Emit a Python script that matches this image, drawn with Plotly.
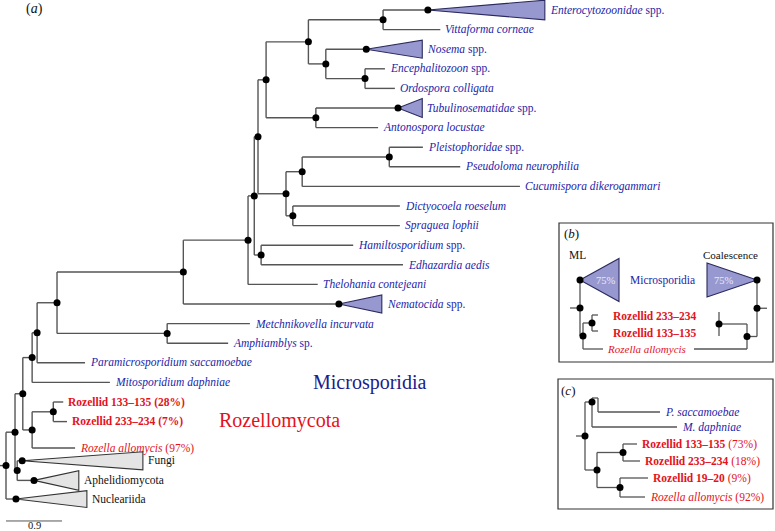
import plotly.graph_objects as go

W, H = 775, 531
PX_PER_UNIT = 56 / 0.9   # scale bar: 0.9 subst./site spans 56 px
ROW_PX = 19.6            # vertical spacing of leaves in (a)

BLUE = "#2424a8"
NAVY = "#1c1c8c"
RED = "#e3121c"
BLACK = "#111111"
LINE = "#555555"
LAV = "#9898d0"
LAV_EDGE = "#2a2a5e"
GREY = "#e4e4e4"
GREY_EDGE = "#333333"
FONT = "Liberation Serif"
LABEL_SIZE = 11.5

# ---------------- (a) ML tree ----------------
# internal nodes, depth from root in substitutions/site
node_names = ["root", "A", "C", "D", "N1", "N2", "N3", "R", "R2", "N4", "N5", "N6",
              "N7", "N8", "N9", "N10", "N11", "N12", "N13", "N14", "N15", "N16",
              "N17", "N18", "N19"]
node_parents = [None, "root", "A", "A", "C", "N1", "N2", "C", "R", "N3", "N3", "N4",
                "N6", "N7", "N8", "N9", "N10", "N10", "N12", "N9", "N8", "N15",
                "N16", "N15", "N7"]
node_depths = [0.0, 0.145, 0.27, 0.18, 0.42, 0.50, 0.82, 0.42, 0.76, 2.85, 2.59, 3.89,
               3.99, 4.05, 4.18, 4.86, 6.06, 5.14, 5.77, 4.98, 4.50, 4.76,
               6.16, 4.61, 4.10]

# single taxa
leaf_labels = [
    "<i>Vittaforma corneae</i>",
    "<i>Encephalitozoon</i> spp.",
    "<i>Ordospora colligata</i>",
    "<i>Antonospora locustae</i>",
    "<i>Pleistophoridae</i> spp.",
    "<i>Pseudoloma neurophilia</i>",
    "<i>Cucumispora dikerogammari</i>",
    "<i>Dictyocoela roeselum</i>",
    "<i>Spraguea lophii</i>",
    "<i>Hamiltosporidium</i> spp.",
    "<i>Edhazardia aedis</i>",
    "<i>Thelohania contejeani</i>",
    "<i>Metchnikovella incurvata</i>",
    "<i>Amphiamblys</i> sp.",
    "<i>Paramicrosporidium saccamoebae</i>",
    "<i>Mitosporidium daphniae</i>",
    "<b>Rozellid 133–135 (28%)</b>",
    "<b>Rozellid 233–234 (7%)</b>",
    "<i>Rozella allomycis</i> (97%)",
]
leaf_parents = ["N11", "N13", "N13", "N14", "N17", "N17", "N16", "N18", "N18", "N19",
                "N19", "N6", "N5", "N5", "N2", "N1", "R2", "R2", "R"]
leaf_depths = [6.98, 6.09, 6.25, 5.98, 6.70, 7.30, 8.26, 6.33, 6.33, 5.58,
               6.38, 5.01, 3.92, 3.57, 1.27, 1.67, 0.92, 0.98, 1.11]
leaf_rows = [1, 3, 4, 6, 7, 8, 9, 10, 11, 12, 13, 14, 16, 17, 18, 19, 20, 21, 22.35]
leaf_groups = ["micro"] * 16 + ["rozellid", "rozellid", "rozella"]

# collapsed clades (triangles)
clade_labels = ["<i>Enterocytozoonidae</i> spp.", "<i>Nosema</i> spp.",
                "<i>Tubulinosematidae</i> spp.", "<i>Nematocida</i> spp.",
                "Fungi", "Aphelidiomycota", "Nucleariida"]
clade_parents = ["N11", "N12", "N14", "N4", "D", "D", "root"]
clade_apex = [6.78, 5.79, 6.30, 5.35, 0.26, 0.45, 0.16]
clade_tip = [8.66, 6.69, 6.69, 6.04, 2.20, 1.17, 1.30]
clade_rows = [0, 2, 5, 15, 23, 24, 24.95]
clade_half = [0.5, 0.46, 0.48, 0.46, 0.46, 0.5, 0.43]
clade_groups = ["micro", "micro", "micro", "micro", "out", "out", "out"]

GROUP_STYLE = {"micro": BLUE, "rozellid": RED, "rozella": RED, "out": BLACK}

# ---------------- (b) ML vs coalescence (box-local px) ----------------
b_nodes = [("ml_root", None, 21), ("ml_roz", "ml_root", 24), ("ml_r", "ml_roz", 33),
           ("co_root", None, 198), ("co_roz", "co_root", 188), ("co_r", "co_roz", 160)]
b_leaves = [("ml_233", "ml_r", 39, 92), ("ml_133", "ml_r", 39, 108),
            ("ml_rozella", "ml_roz", 44, 126),
            ("co_233", "co_r", 160, 89), ("co_133", "co_r", 160, 113),
            ("co_rozella", "co_roz", 135, 126)]
b_clades = [("ml_micro", "ml_root", 21, 60, 57, 21.5, "micro"),
            ("co_micro", "co_root", 198, 148, 57, 17, "micro")]
b_support = ["75%", "75%"]

# ---------------- (c) alternative topology (box-local px) ----------------
c_nodes = [("c_root", None, 27), ("c_pm", "c_root", 34), ("c_ps", "c_pm", 40),
           ("c_roz", "c_root", 39), ("c_r1", "c_roz", 65), ("c_r2", "c_roz", 62)]
c_fixed_y = {"c_pm": 23, "c_ps": 19}
c_leaf_labels = ["<i>P. saccamoebae</i>", "<i>M. daphniae</i>",
                 "<b>Rozellid 133–135</b> (73%)", "<b>Rozellid 233–234</b> (18%)",
                 "<b>Rozellid 19–20</b> (9%)", "<i>Rozella allomycis</i> (92%)"]
c_leaf_parents = ["c_ps", "c_pm", "c_r1", "c_r1", "c_r2", "c_r2"]
c_leaf_x = [102, 119, 79, 82, 90, 87]
c_leaf_y = [33, 48, 65, 82, 99, 118]
c_leaf_groups = ["micro", "micro", "rozellid", "rozellid", "rozellid", "rozella"]


def tree_geometry(nodes, leaves, clades, fixed_y=None):
    px, py, parent, kids = {}, {}, {}, {}
    for name, par, x in nodes:
        px[name], parent[name] = x, par
        kids.setdefault(par, []).append(name)
    for name, par, x, y in leaves:
        px[name], py[name], parent[name] = x, y, par
        kids.setdefault(par, []).append(name)
    for name, par, ax, tx, y, half, grp in clades:
        px[name], py[name], parent[name] = ax, y, par
        kids.setdefault(par, []).append(name)
    fixed_y = fixed_y or {}

    def get_y(n):
        if n not in py:
            if n in fixed_y:
                py[n] = fixed_y[n]
            else:
                ys = [get_y(c) for c in kids[n]]
                py[n] = (min(ys) + max(ys)) / 2
        return py[n]

    for n in list(px):
        get_y(n)
    for n in list(px):
        for c in kids.get(n, []):
            get_y(c)

    lx, ly = [], []
    for n, par in parent.items():
        if par is None:
            continue
        lx += [px[par], px[n], None]
        ly += [py[n], py[n], None]
    for name, par, x in nodes:
        ys = [py[c] for c in kids[name]] + [py[name]]
        lx += [x, x, None]
        ly += [min(ys), max(ys), None]
    return px, py, lx, ly


def draw_tree(fig, nodes, leaves, clades, xa, ya, stubs, fixed_y=None, no_dot=(),
              lw=1.4):
    px, py, lx, ly = tree_geometry(nodes, leaves, clades, fixed_y)
    for root, sx in stubs:
        lx += [sx, px[root], None]
        ly += [py[root], py[root], None]
    fig.add_trace(go.Scatter(x=lx, y=ly, mode="lines", xaxis=xa, yaxis=ya,
                             line=dict(color=LINE, width=lw), hoverinfo="skip"))
    for name, par, ax, tx, y, half, grp in clades:
        fill, edge = (LAV, LAV_EDGE) if grp == "micro" else (GREY, GREY_EDGE)
        fig.add_trace(go.Scatter(x=[ax, tx, tx, ax], y=[y, y - half, y + half, y],
                                 mode="lines", fill="toself", fillcolor=fill,
                                 line=dict(color=edge, width=1.1), xaxis=xa, yaxis=ya,
                                 hoverinfo="skip"))
    dots = [n for n, _, _ in nodes if n not in no_dot] + [c[0] for c in clades]
    fig.add_trace(go.Scatter(x=[px[n] for n in dots], y=[py[n] for n in dots],
                             mode="markers", marker=dict(color="black", size=7),
                             xaxis=xa, yaxis=ya, hoverinfo="skip", cliponaxis=False))
    return px, py


fig = go.Figure()

# (a)
a_nodes = list(zip(node_names, node_parents, node_depths))
a_leaves = [(lab, par, d, r) for lab, par, d, r in
            zip(leaf_labels, leaf_parents, leaf_depths, leaf_rows)]
a_clades = list(zip(clade_labels, clade_parents, clade_apex, clade_tip, clade_rows,
                    clade_half, clade_groups))
draw_tree(fig, a_nodes, a_leaves, a_clades, "x", "y", [("root", -0.1)])

for lab, d, r, g in zip(leaf_labels, leaf_depths, leaf_rows, leaf_groups):
    fig.add_annotation(x=d, y=r, text=lab, xref="x", yref="y", showarrow=False,
                       xanchor="left", yanchor="middle", xshift=3,
                       font=dict(size=LABEL_SIZE, color=GROUP_STYLE[g]))
for lab, t, r, g in zip(clade_labels, clade_tip, clade_rows, clade_groups):
    fig.add_annotation(x=t, y=r, text=lab, xref="x", yref="y", showarrow=False,
                       xanchor="left", yanchor="middle", xshift=3,
                       font=dict(size=LABEL_SIZE, color=GROUP_STYLE[g]))

# scale bar
fig.add_trace(go.Scatter(x=[0, 0.9], y=[26.07, 26.07], mode="lines",
                         line=dict(color=LINE, width=1), hoverinfo="skip"))
fig.add_annotation(x=0.45, y=26.3, text="0.9", showarrow=False,
                   font=dict(size=10.5, color=BLACK))

fig.add_annotation(x=5.84, y=18.98, text="Microsporidia", showarrow=False,
                   font=dict(size=20, color=NAVY))
fig.add_annotation(x=4.40, y=20.92, text="Rozellomycota", showarrow=False,
                   font=dict(size=20, color=RED))
fig.add_annotation(x=0.45, y=-0.05, xref="x", yref="y", text="(<i>a</i>)",
                   showarrow=False, font=dict(size=14, color=BLACK))

# (b)
draw_tree(fig, b_nodes, b_leaves, b_clades, "x2", "y2",
          [("ml_root", 11), ("co_root", 208)], lw=1.3)
for (name, par, ax, tx, y, half, grp), s in zip(b_clades, b_support):
    fig.add_annotation(x=(2 * tx + ax) / 3, y=y, text=s, xref="x2", yref="y2",
                       showarrow=False, font=dict(size=10.5, color="#e8e8f6"))
b_texts = [
    ("(<i>b</i>)", 12, 10, BLACK, 13),
    ("ML", 18, 32, BLACK, 11.5),
    ("Coalescence", 171, 32, BLACK, 11),
    ("Microsporidia", 103, 57, BLUE, 11.5),
    ("<b>Rozellid 233–234</b>", 96, 93, RED, 11.5),
    ("<b>Rozellid 133–135</b>", 96, 110, RED, 11.5),
    ("<i>Rozella allomycis</i>", 87, 126, RED, 11),
]
for txt, x, y, col, sz in b_texts:
    fig.add_annotation(x=x, y=y, text=txt, xref="x2", yref="y2", showarrow=False,
                       font=dict(size=sz, color=col))

# (c)
c_leaves = list(zip(c_leaf_labels, c_leaf_parents, c_leaf_x, c_leaf_y))
draw_tree(fig, c_nodes, c_leaves, [], "x3", "y3", [("c_root", 18)],
          fixed_y=c_fixed_y, no_dot=("c_ps",), lw=1.3)
for lab, x, y, g in zip(c_leaf_labels, c_leaf_x, c_leaf_y, c_leaf_groups):
    fig.add_annotation(x=x, y=y, text=lab, xref="x3", yref="y3", showarrow=False,
                       xanchor="left", yanchor="middle", xshift=3,
                       font=dict(size=LABEL_SIZE, color=GROUP_STYLE[g]))
fig.add_annotation(x=10, y=11, text="(<i>c</i>)", xref="x3", yref="y3",
                   showarrow=False, font=dict(size=13, color=BLACK))

for ax_id in ("2", "3"):
    fig.add_shape(type="rect", xref=f"x{ax_id} domain", yref=f"y{ax_id} domain",
                  x0=0, x1=1, y0=0, y1=1, line=dict(color="#333333", width=1.2))

hidden = dict(visible=False, showgrid=False, zeroline=False)
fig.update_layout(
    width=W, height=H, margin=dict(l=0, r=0, t=0, b=0),
    paper_bgcolor="white", plot_bgcolor="white", showlegend=False,
    font=dict(family=FONT, size=LABEL_SIZE, color=BLACK),
    xaxis=dict(range=[-6 / PX_PER_UNIT, (W - 6) / PX_PER_UNIT], domain=[0, 1], **hidden),
    yaxis=dict(range=[(H - 10) / ROW_PX, -10 / ROW_PX], domain=[0, 1], **hidden),
    xaxis2=dict(range=[0, 214], domain=[559 / W, 773 / W], anchor="y2", **hidden),
    yaxis2=dict(range=[139, 0], domain=[(H - 362) / H, (H - 223) / H], anchor="x2", **hidden),
    xaxis3=dict(range=[0, 215], domain=[558 / W, 773 / W], anchor="y3", **hidden),
    yaxis3=dict(range=[130, 0], domain=[(H - 509) / H, (H - 379) / H], anchor="x3", **hidden),
)

# the page's default body margin would push the 775x531 figure off the window
fig.write_html("out.html", config={"displayModeBar": False},
               post_script="document.body.style.margin='0px';")
